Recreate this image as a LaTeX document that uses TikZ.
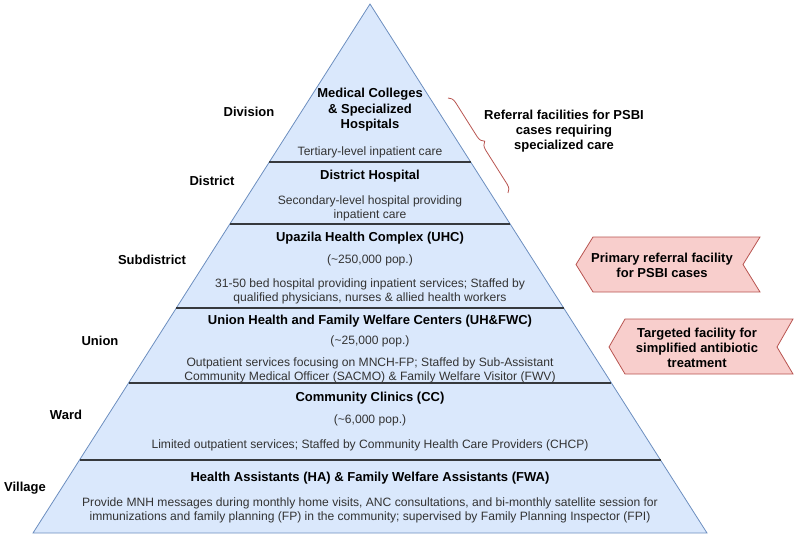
\documentclass[tikz,border=0pt]{standalone}
\usepackage{fontspec}
\setmainfont{Liberation Sans}
\usetikzlibrary{decorations.pathreplacing,calc}
\definecolor{pyrfill}{HTML}{DAE8FC}
\definecolor{pyrline}{HTML}{6C8EBF}
\definecolor{redline}{HTML}{B85450}
\definecolor{redfill}{HTML}{F8CECC}
\definecolor{divline}{HTML}{36393D}
\definecolor{bodytext}{HTML}{333333}
\begin{document}
\begin{tikzpicture}[x=1pt,y=-1pt,
  ttl/.style={font=\bfseries\fontsize{13}{15.5}\selectfont, inner sep=0pt, align=center},
  bdy/.style={font=\fontsize{12.1}{14}\selectfont, text=bodytext, inner sep=0pt, align=center},
  lvl/.style={font=\bfseries\fontsize{13}{15}\selectfont, inner sep=0pt},
  divider/.style={draw=divline, line width=1.3pt},
  callout/.style={draw=redline, fill=redfill, line width=0.8pt, line join=miter},
  calltext/.style={font=\bfseries\fontsize{13}{15}\selectfont, inner sep=0pt, align=center}
]
\useasboundingbox (0,0) rectangle (800,538);
% pyramid
\coordinate (apex) at (370,4);
\coordinate (bl) at (33,533);
\coordinate (br) at (707,533);
\draw[fill=pyrfill, draw=pyrline, line width=0.8pt, line join=miter] (apex) -- (br) -- (bl) -- cycle;
% dividers
\foreach \t/\n in {0.2987/d1, 0.4159/d2, 0.5747/d3, 0.7164/d4, 0.8620/d5}{
  \coordinate (\n l) at ($(apex)!\t!(bl)$);
  \coordinate (\n r) at ($(apex)!\t!(br)$);
  \draw[divider] (\n l) -- (\n r);
}
% level 1
\node[ttl] (mc) at (370,110) {Medical Colleges\\\& Specialized\\Hospitals};
\node[bdy] (mcb) at (370,152) {Tertiary-level inpatient care};
% level 2
\node[ttl] (dh) at (370,176) {District Hospital};
\node[bdy] (dhb) at (370,208) {Secondary-level hospital providing\\inpatient care};
% level 3
\node[ttl] (uhc) at (370,238) {Upazila Health Complex (UHC)};
\node[bdy] (uhcp) at (370,260) {(\textasciitilde250,000 pop.)};
\node[bdy] (uhcb) at (370,291) {31-50 bed hospital providing inpatient services; Staffed by\\qualified physicians, nurses \& allied health workers};
% level 4
\node[ttl] (uh) at (370,321) {Union Health and Family Welfare Centers (UH\&FWC)};
\node[bdy] (uhp) at (370,341) {(\textasciitilde25,000 pop.)};
\node[bdy] (uhb) at (370,370.5) {Outpatient services focusing on MNCH-FP; Staffed by Sub-Assistant\\Community Medical Officer (SACMO) \& Family Welfare Visitor (FWV)};
% level 5
\node[ttl] (cc) at (370,398) {Community Clinics (CC)};
\node[bdy] (ccp) at (370,420) {(\textasciitilde6,000 pop.)};
\node[bdy] (ccb) at (370,445) {Limited outpatient services; Staffed by Community Health Care Providers (CHCP)};
% level 6
\node[ttl] (ha) at (370,478) {Health Assistants (HA) \& Family Welfare Assistants (FWA)};
\node[bdy] (hab) at (370,510) {Provide MNH messages during monthly home visits, ANC consultations, and bi-monthly satellite session for\\immunizations and family planning (FP) in the community; supervised by Family Planning Inspector (FPI)};
% left labels
\node[lvl] (lv1) at (249,112) {Division};
\node[lvl] (lv2) at (212,181) {District};
\node[lvl] (lv3) at (152,260) {Subdistrict};
\node[lvl] (lv4) at (100,341) {Union};
\node[lvl] (lv5) at (66,415) {Ward};
\node[lvl] (lv6) at (25,488) {Village};
% brace
\coordinate (bt) at (448,98);
\coordinate (bb) at (508,193);
\draw[redline, line width=0.8pt, decorate, decoration={brace, amplitude=8pt}] (bt) -- (bb);
\node[calltext] (bx) at (564,131) {Referral facilities for PSBI\\cases requiring\\specialized care};
% callout 1
\draw[callout] (576,264.5) -- (593,237) -- (760,237) -- (743,264.5) -- (760,292) -- (593,292) -- cycle;
\node[calltext] (c1) at (662,265.5) {Primary referral facility\\for PSBI cases};
% callout 2
\draw[callout] (609,347) -- (625,319) -- (793,319) -- (777,347) -- (793,374) -- (625,374) -- cycle;
\node[calltext] (c2) at (697,348) {Targeted facility for\\simplified antibiotic\\treatment};
\end{tikzpicture}
\end{document}
